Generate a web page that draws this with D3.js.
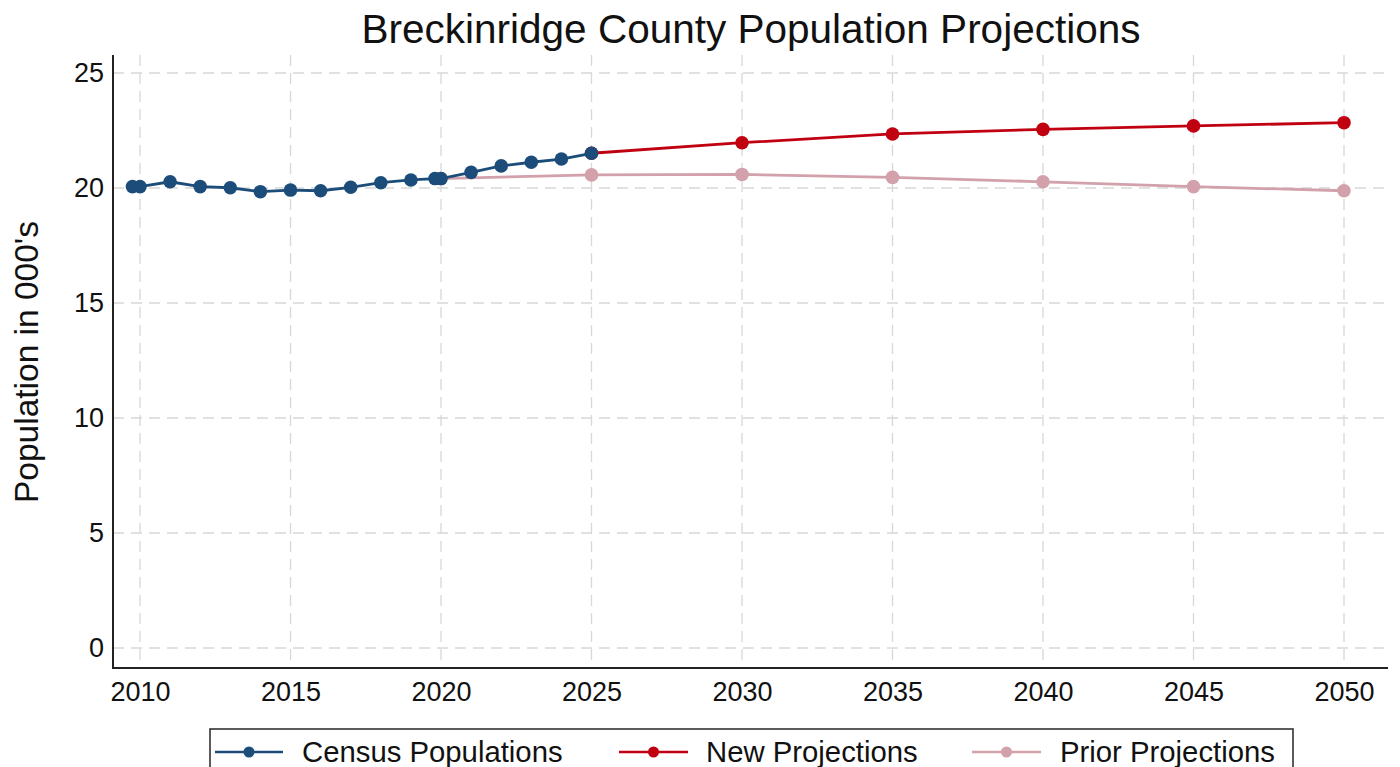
<!DOCTYPE html>
<html>
<head>
<meta charset="utf-8">
<script src="https://cdn.jsdelivr.net/npm/d3@7"></script>
<style>
  html, body { margin: 0; padding: 0; background: #fff; }
  svg { display: block; font-family: "Liberation Sans", Arial, sans-serif; }
</style>
</head>
<body>
<svg id="chart" width="1400" height="767"></svg>
<script>
// ---- data ----
const censusYears  = [2009.75, 2010, 2011, 2012, 2013, 2014, 2015, 2016, 2017, 2018, 2019, 2019.8, 2020, 2021, 2022, 2023, 2024, 2025];
const censusValues = [20.06, 20.06, 20.27, 20.06, 20.01, 19.84, 19.91, 19.88, 20.03, 20.23, 20.35, 20.41, 20.41, 20.68, 20.96, 21.12, 21.26, 21.51];
const newYears     = [2025, 2030, 2035, 2040, 2045, 2050];
const newValues    = [21.51, 21.97, 22.35, 22.55, 22.70, 22.84];
const priorYears   = [2020, 2025, 2030, 2035, 2040, 2045, 2050];
const priorValues  = [20.41, 20.57, 20.59, 20.46, 20.27, 20.06, 19.88];
const xTicks = [2010, 2015, 2020, 2025, 2030, 2035, 2040, 2045, 2050];
const yTicks = [0, 5, 10, 15, 20, 25];
const seriesNames = ["Census Populations", "New Projections", "Prior Projections"];
const titleText = "Breckinridge County Population Projections";
const yTitleText = "Population in 000's";

const colors = { census: "#1c4d7a", newp: "#c00010", prior: "#d2a1ab" };

// ---- layout ----
const svg = d3.select("#chart");
const plot = { left: 113, right: 1388, top: 55, bottom: 668 };

const x = d3.scaleLinear().domain([2010, 2050]).range([140, 1344]);
const y = d3.scaleLinear().domain([0, 25]).range([648, 73]);

// gridlines
const grid = svg.append("g");
grid.selectAll("line.h").data(yTicks).join("line")
  .attr("x1", plot.left).attr("x2", plot.right)
  .attr("y1", d => y(d)).attr("y2", d => y(d))
  .attr("stroke", "#d8d8d8").attr("stroke-width", 1.3)
  .attr("stroke-dasharray", "11,7");
grid.selectAll("line.v").data(xTicks).join("line")
  .attr("y1", plot.top).attr("y2", plot.bottom)
  .attr("x1", d => x(d)).attr("x2", d => x(d))
  .attr("stroke", "#d8d8d8").attr("stroke-width", 1.3)
  .attr("stroke-dasharray", "11,7");

// axes
const xAxis = d3.axisBottom(x).tickValues(xTicks).tickFormat(d3.format("d")).tickSize(0).tickPadding(14);
const yAxis = d3.axisLeft(y).tickValues(yTicks).tickSize(0).tickPadding(8);

const gx = svg.append("g").attr("transform", `translate(0,${plot.bottom})`).call(xAxis);
gx.select(".domain").remove();
gx.selectAll("text").attr("font-size", 27).attr("fill", "#111").attr("font-family", "Liberation Sans, Arial, sans-serif");

const gy = svg.append("g").attr("transform", `translate(${plot.left - 1},0)`).call(yAxis);
gy.select(".domain").remove();
gy.selectAll("text").attr("font-size", 27).attr("fill", "#111").attr("font-family", "Liberation Sans, Arial, sans-serif");

svg.append("line").attr("x1", plot.left).attr("x2", plot.left).attr("y1", plot.top).attr("y2", plot.bottom + 1)
  .attr("stroke", "#222").attr("stroke-width", 2);
svg.append("line").attr("x1", plot.left).attr("x2", plot.right).attr("y1", plot.bottom).attr("y2", plot.bottom)
  .attr("stroke", "#222").attr("stroke-width", 2);

// series
const line = d3.line().x(d => x(d[0])).y(d => y(d[1]));
function drawSeries(xs, ys, color) {
  const pts = xs.map((v, i) => [v, ys[i]]);
  const g = svg.append("g");
  g.append("path").datum(pts).attr("d", line).attr("fill", "none")
    .attr("stroke", color).attr("stroke-width", 2.8);
  g.selectAll("circle").data(pts).join("circle")
    .attr("cx", d => x(d[0])).attr("cy", d => y(d[1])).attr("r", 6.8)
    .attr("fill", color);
}
drawSeries(priorYears, priorValues, colors.prior);
drawSeries(newYears, newValues, colors.newp);
drawSeries(censusYears, censusValues, colors.census);

// title
svg.append("text").attr("x", 751).attr("y", 43).attr("text-anchor", "middle")
  .attr("font-size", 40.5).attr("fill", "#111").text(titleText);

// y title
svg.append("text").attr("transform", "translate(38,362) rotate(-90)")
  .attr("text-anchor", "middle").attr("font-size", 33.5).attr("fill", "#111").text(yTitleText);

// legend
const legend = svg.append("g");
legend.append("rect").attr("x", 210).attr("y", 729).attr("width", 1083).attr("height", 60)
  .attr("fill", "#fff").attr("stroke", "#333").attr("stroke-width", 1.6);
const legItems = [
  { name: seriesNames[0], color: colors.census, x0: 215, x1: 283, tx: 302 },
  { name: seriesNames[1], color: colors.newp, x0: 619, x1: 688, tx: 706 },
  { name: seriesNames[2], color: colors.prior, x0: 972, x1: 1041, tx: 1060 }
];
const ly = 752;
legItems.forEach(it => {
  legend.append("line").attr("x1", it.x0).attr("x2", it.x1).attr("y1", ly).attr("y2", ly)
    .attr("stroke", it.color).attr("stroke-width", 2.6);
  legend.append("circle").attr("cx", (it.x0 + it.x1) / 2).attr("cy", ly).attr("r", 5.5).attr("fill", it.color);
  legend.append("text").attr("x", it.tx).attr("y", ly + 10).attr("font-size", 29.3).attr("fill", "#111").text(it.name);
});
</script>
</body>
</html>
